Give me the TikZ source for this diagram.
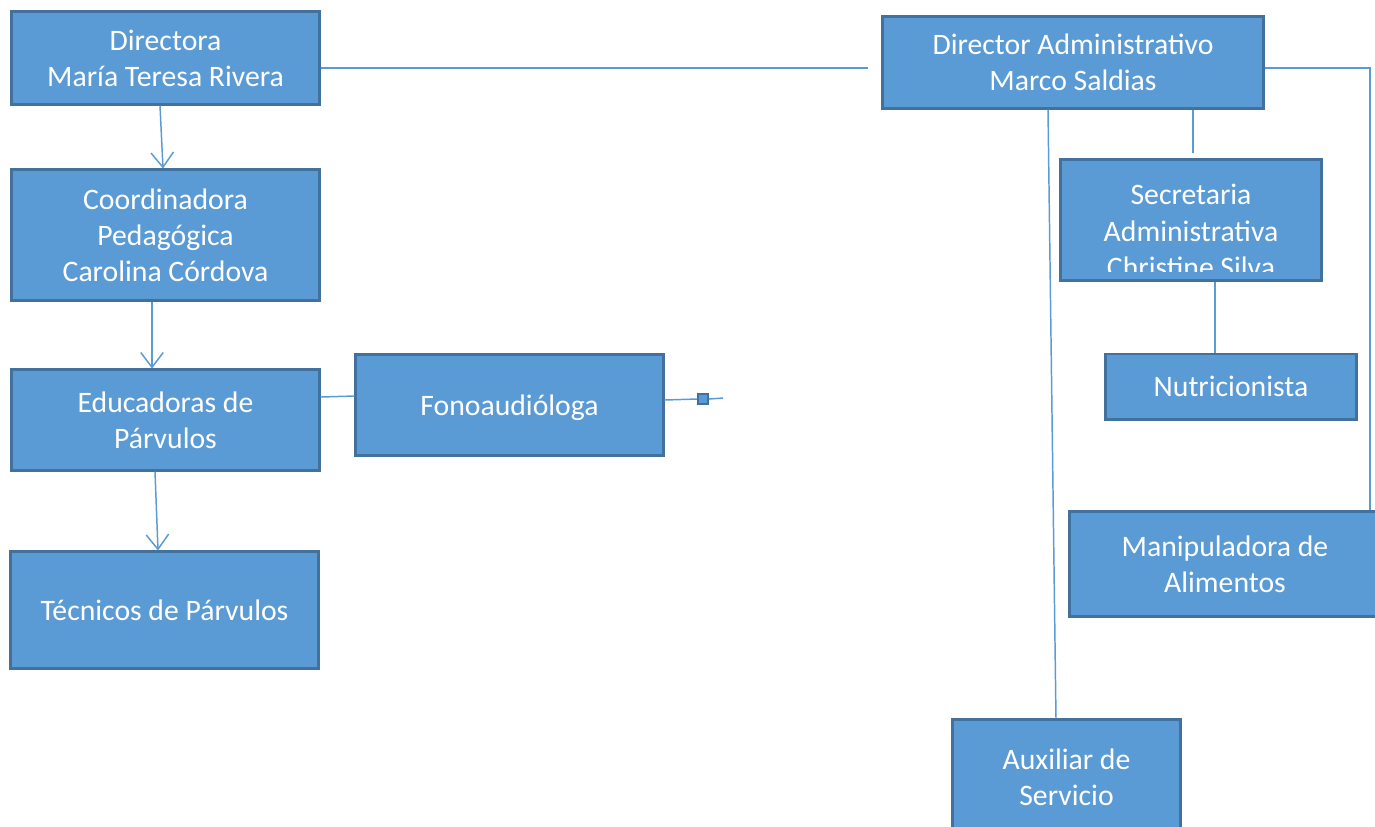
\documentclass[tikz,border=0pt]{standalone}
\usepackage{fontspec}
\setmainfont{Carlito}
\usetikzlibrary{arrows.meta}
\definecolor{boxfill}{HTML}{5B9BD5}
\definecolor{boxline}{HTML}{41719C}
\definecolor{conn}{HTML}{5B9BD5}
\tikzset{
  orgbox/.style={draw=boxline, fill=boxfill, line width=0.85pt, inner sep=0pt,
    text=white, align=center, text depth=0pt, font=\fontsize{8.45}{10.3}\selectfont},
  orgtext/.style={inner sep=0pt, text=white, align=center, font=\fontsize{8.45}{10.3}\selectfont},
  conn/.style={draw=conn, line width=0.42pt},
  arr/.style={conn, -{Straight Barb[length=4.2pt, width=6.4pt, line width=0.42pt]}},
  sqbox/.style={draw=boxline, fill=boxfill, line width=0.6pt, minimum size=0.1cm, inner sep=0pt}
}
\begin{document}
\begin{tikzpicture}[x=0.01cm, y=-0.01cm]
\useasboundingbox (0,0) rectangle (1375,826);
\clip (0,0) rectangle (1375,826);
% left column
\node[orgbox, minimum width=3.07cm, minimum height=0.92cm] (dir) at (165.5,58) {Directora\\María Teresa Rivera};
\node[orgbox, minimum width=3.07cm, minimum height=1.30cm] (coord) at (165.5,235) {Coordinadora\\Pedagógica\\Carolina Córdova};
\node[orgbox, minimum width=3.07cm, minimum height=1.00cm] (edu) at (165.5,420) {Educadoras de\\Párvulos};
\node[orgbox, minimum width=3.07cm, minimum height=1.16cm] (tec) at (164.5,610) {Técnicos de Párvulos};
\node[orgbox, minimum width=3.07cm, minimum height=1.00cm] (fono) at (509.5,405) {Fonoaudióloga};
% right side
\node[orgbox, minimum width=3.80cm, minimum height=0.91cm] (adm) at (1073,62.5) {Director Administrativo\\Marco Saldias};
\node[orgbox, minimum width=2.60cm, minimum height=1.20cm] (sec) at (1191,220) {};
\begin{scope}
  \clip (1063,162) rectangle (1319,271);
  \node[orgtext] (sectext) at (1191,231) {Secretaria\\Administrativa\\Christine Silva};
\end{scope}
\node[orgbox, minimum width=2.50cm, minimum height=0.65cm] (nut) at (1231,386.5) {Nutricionista};
\node[orgbox, minimum width=3.10cm, minimum height=1.04cm] (man) at (1225,564) {Manipuladora de\\Alimentos};
\node[orgbox, minimum width=2.27cm, minimum height=1.14cm] (aux) at (1066.5,777) {Auxiliar de\\Servicio};
% connectors left
\draw[arr] (dir.south -| 160,0) -- (coord.north -| 163,0);
\draw[arr] (coord.south -| 152,0) -- (edu.north -| 152,0);
\draw[arr] (edu.south -| 155,0) -- (tec.north -| 158,0);
\coordinate (dirend) at (868,68);
\draw[conn] (dir.east |- 0,68) -- (dirend);
\draw[conn] (edu.east |- 0,397) -- (fono.west |- 0,396);
\coordinate (fonoend) at (723,398);
\node[sqbox] (sq) at (703,399) {};
\draw[conn] (fono.east |- 0,400) -- (sq.west);
\draw[conn] (sq.east) -- (fonoend);
% connectors right
\coordinate (secstub) at (1193,153);
\draw[conn] (adm.south -| 1193,0) -- (secstub);
\draw[conn] (sec.south -| 1215,0) -- (nut.north -| 1215,0);
\draw[conn] (adm.east |- 0,68) -- (1370,68) -- (man.north -| 1370,0);
\draw[conn] (adm.south -| 1048,0) -- (aux.north -| 1056,0);
\end{tikzpicture}
\end{document}
